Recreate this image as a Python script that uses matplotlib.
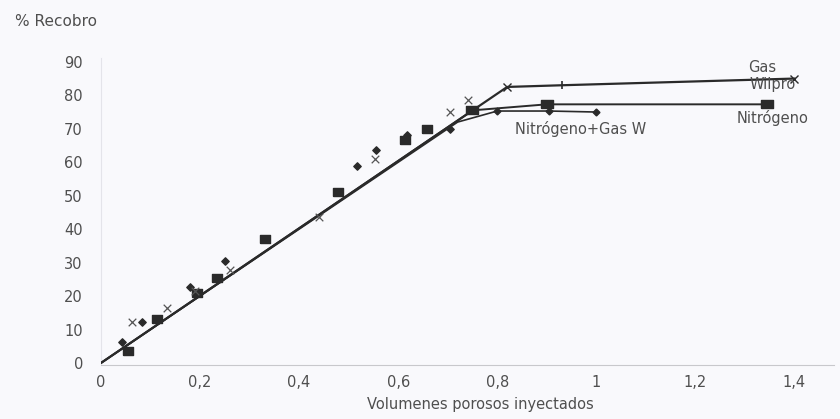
import matplotlib
matplotlib.use("Agg")
import matplotlib.pyplot as plt

# Fitted curves (pore volumes injected vs. % recovery)
gas_x = [0.0, 0.82, 0.93, 1.40]
gas_y = [0.0, 82.5, 83.0, 85.0]
nit_x = [0.0, 0.75, 0.90, 1.345]
nit_y = [0.0, 75.5, 77.3, 77.3]
mix_x = [0.0, 0.72, 0.80, 0.905, 1.0]
mix_y = [0.0, 72.0, 75.3, 75.3, 75.0]

# Experimental points
sq_x = [0.055, 0.113, 0.194, 0.234, 0.331, 0.479, 0.614, 0.658]
sq_y = [3.6, 13.0, 21.0, 25.4, 37.0, 51.0, 66.5, 70.0]
dm_x = [0.042, 0.083, 0.180, 0.250, 0.517, 0.556, 0.618, 0.705]
dm_y = [6.3, 12.2, 22.7, 30.4, 58.8, 63.6, 68.0, 70.0]
xx_x = [0.063, 0.133, 0.190, 0.260, 0.440, 0.554, 0.705, 0.740]
xx_y = [12.2, 16.4, 21.5, 27.8, 43.5, 61.0, 75.0, 78.5]

x_ticks = [0, 0.2, 0.4, 0.6, 0.8, 1.0, 1.2, 1.4]
x_labels = ["0", "0,2", "0,4", "0,6", "0,8", "1", "1,2", "1,4"]
y_ticks = [0, 10, 20, 30, 40, 50, 60, 70, 80, 90]

plt.rcParams['font.family'] = ['DejaVu Sans']
bg = '#f9f9fc'
ink = '#2a2a2a'
txt = '#4f4f4f'

# wide flat rectangle marker
rect = [(-1.35, -1.0), (1.35, -1.0), (1.35, 1.0), (-1.35, 1.0), (-1.35, -1.0)]

fig = plt.figure(figsize=(8.4, 4.19), dpi=100, facecolor=bg)
ax = fig.add_axes([0.1202, 0.1289, 0.8728, 0.7315], facecolor=bg)

ax.plot(gas_x, gas_y, color=ink, lw=1.6, marker='x', ms=6, mew=1.0,
        markevery=[1, 3], zorder=3)
ax.plot(nit_x, nit_y, color=ink, lw=1.4, marker=rect, ms=8,
        markevery=[1, 2, 3], zorder=3)
ax.plot(mix_x, mix_y, color=ink, lw=1.2, marker='D', ms=3.5,
        markevery=[2, 3, 4], zorder=3)
ax.plot([gas_x[2]], [gas_y[2]], color=ink, marker='|', ms=6, mew=1.2, ls='none')

ax.scatter(sq_x, sq_y, marker=rect, s=55, color=ink, zorder=4)
ax.scatter(dm_x, dm_y, marker='D', s=14, color=ink, zorder=4)
ax.scatter(xx_x, xx_y, marker='x', s=30, color='#555555', linewidths=0.9, zorder=4)

fs = 10.5
ax.text(1.335, 86.0, "Gas", fontsize=fs, color=txt, ha='center', va='bottom')
ax.text(1.355, 83.3, "Wilpro", fontsize=fs, color=txt, ha='center', va='center')
ax.text(1.355, 73.3, "Nitrógeno", fontsize=fs, color=txt, ha='center', va='center')
ax.text(0.968, 69.8, "Nitrógeno+Gas W", fontsize=fs, color=txt, ha='center', va='center')

ax.set_xlim(0, 1.48)
ax.set_ylim(-0.6, 91.0)
ax.set_xticks(x_ticks)
ax.set_xticklabels(x_labels)
ax.set_yticks(y_ticks)
ax.tick_params(axis='x', length=0, labelsize=fs, colors=txt, pad=7)
ax.tick_params(axis='y', length=0, labelsize=fs, colors=txt, pad=13)

for s in ['top', 'right']:
    ax.spines[s].set_visible(False)
ax.spines['bottom'].set_color('#c8c8cc')
ax.spines['left'].set_color('#e4e4ea')
ax.spines['left'].set_bounds(0, 91)

ax.set_xlabel("Volumenes porosos inyectados", fontsize=fs, color=txt)
ax.xaxis.set_label_coords(0.518, -0.105)
fig.text(0.018, 0.948, "% Recobro", fontsize=11, color=txt, ha='left', va='center')

fig.savefig("out.png", dpi=100, facecolor=bg)
